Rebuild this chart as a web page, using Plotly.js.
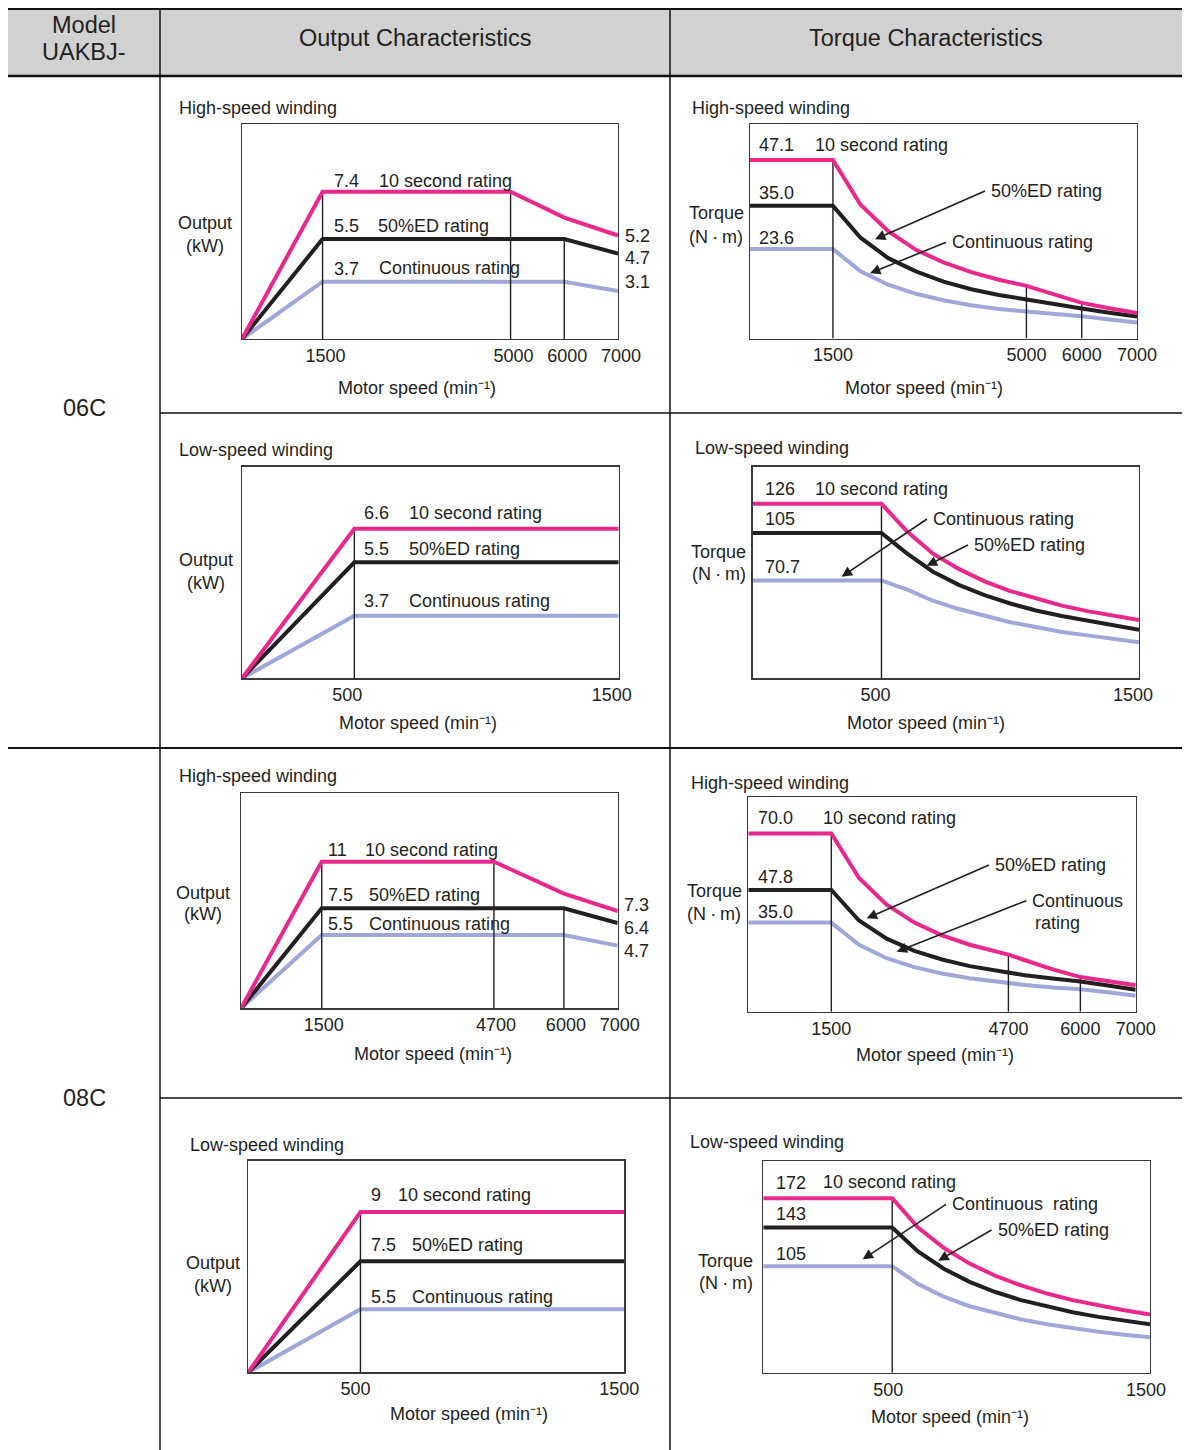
<!DOCTYPE html>
<html>
<head>
<meta charset="utf-8">
<script src="https://cdn.plot.ly/plotly-3.0.1.min.js"></script>
<style>
html,body{margin:0;padding:0;background:#fff;}
#chart{width:1186px;height:1450px;}
</style>
</head>
<body>
<div id="chart"></div>
<script>
// ================= DATA =================
// UAKBJ-06C, high-speed winding, output (kW)
const outSpeed06H = [0, 1500, 5000, 6000, 7000];
const out06H_10s  = [0, 7.4, 7.4, 6.1, 5.2];
const out06H_ed   = [0, 5.5, 5.5, 5.5, 4.7];
const out06H_cont = [0, 3.7, 3.7, 3.7, 3.1];

// UAKBJ-06C, high-speed winding, torque (N·m)
const trqSpeed06H = [0, 1500, 2000, 2500, 3000, 3500, 4000, 4500, 5000, 5500, 6000, 6500, 7000];
const trq06H_10s  = [47.1, 47.1, 35.3, 28.3, 23.4, 20.1, 17.5, 15.5, 13.9, 11.6, 9.4, 8.0, 6.7];
const trq06H_ed   = [35.0, 35.0, 26.6, 21.2, 17.7, 15.0, 13.0, 11.5, 10.3, 9.0, 7.9, 6.8, 5.8];
const trq06H_cont = [23.6, 23.6, 17.7, 14.2, 11.8, 10.1, 8.8, 7.8, 7.1, 6.5, 5.9, 5.0, 4.2];

// UAKBJ-06C, low-speed winding, output (kW)
const outSpeed06L = [0, 500, 1500];
const out06L_10s  = [0, 6.6, 6.6];
const out06L_ed   = [0, 5.5, 5.5];
const out06L_cont = [0, 3.7, 3.7];

// UAKBJ-06C, low-speed winding, torque (N·m)
const trqSpeed06L = [0, 500, 600, 700, 800, 900, 1000, 1100, 1200, 1300, 1400, 1500];
const trq06L_10s  = [126, 126, 106, 90, 79, 70, 63, 57.5, 52.5, 48.5, 45, 42];
const trq06L_ed   = [105, 105, 90, 77, 67.5, 60, 54, 49, 45, 41.5, 38, 35];
const trq06L_cont = [70.7, 70.7, 64, 56, 50, 45, 40.5, 37, 33.5, 31, 28.5, 26];

// UAKBJ-08C, high-speed winding, output (kW)
const outSpeed08H = [0, 1500, 4700, 6000, 7000];
const out08H_10s  = [0, 11, 11, 8.6, 7.3];
const out08H_ed   = [0, 7.5, 7.5, 7.5, 6.4];
const out08H_cont = [0, 5.5, 5.5, 5.5, 4.7];

// UAKBJ-08C, high-speed winding, torque (N·m)
const trqSpeed08H = [0, 1500, 2000, 2500, 3000, 3500, 4000, 4700, 5000, 5500, 6000, 6500, 7000];
const trq08H_10s  = [70.0, 70.0, 52.5, 42.0, 35.0, 30.0, 26.3, 22.4, 20.2, 16.6, 13.6, 11.8, 10.4];
const trq08H_ed   = [47.8, 47.8, 35.8, 28.7, 23.9, 20.5, 17.9, 15.2, 14.3, 13.0, 11.9, 10.3, 8.6];
const trq08H_cont = [35.0, 35.0, 26.3, 21.0, 17.5, 15.0, 13.1, 11.2, 10.5, 9.5, 8.8, 7.6, 6.3];

// UAKBJ-08C, low-speed winding, output (kW)
const outSpeed08L = [0, 500, 1500];
const out08L_10s  = [0, 9, 9];
const out08L_ed   = [0, 7.5, 7.5];
const out08L_cont = [0, 5.5, 5.5];

// UAKBJ-08C, low-speed winding, torque (N·m)
const trqSpeed08L = [0, 500, 600, 700, 800, 900, 1000, 1100, 1200, 1300, 1400, 1500];
const trq08L_10s  = [172, 172, 143, 123, 107.5, 95.5, 86, 78, 71.5, 66, 61.5, 57.3];
const trq08L_ed   = [143, 143, 119.5, 102.5, 89.5, 79.5, 71.5, 65, 59.5, 55, 51, 47.7];
const trq08L_cont = [105, 105, 87.5, 75, 65.5, 58.5, 52.5, 47.7, 43.8, 40.4, 37.5, 35];

// tick labels
const tick06H = [1500, 5000, 6000, 7000];
const tick08H = [1500, 4700, 6000, 7000];
const tickLow = [500, 1500];

// ================= STYLE / LAYOUT =================
const W = 1186, H = 1450;
const FONT = '"Liberation Sans", Arial, Helvetica, sans-serif';
const TXT = '#231f20';
const PINK = '#e8288c', BLACK = '#231f20', BLUE = '#9ea7d8';
const px = x => x / W, py = y => 1 - y / H;

// series order per chart: continuous, 50%ED, 10 second (drawn bottom to top).
// The reference drawing is schematic: each curve has its own vertical scale.
const charts = [
  { box:[242,124,618,339], speed:outSpeed06H, xr:[0,7000], ticks:tick06H, shift:3,
    series:[[out06H_cont,BLUE,[0,13.88]],[out06H_ed,BLACK,[0,11.83]],[out06H_10s,PINK,[0,10.80]]],
    vlines:[[1500,2],[5000,2],[6000,1]] },
  { box:[750,124,1137,338.5], speed:trqSpeed06H, xr:[0,7000], ticks:tick06H, shift:0,
    series:[[trq06H_cont,BLUE,[0,56.6]],[trq06H_ed,BLACK,[0,56.6]],[trq06H_10s,PINK,[0,56.6]]],
    vlines:[[1500,2],[5000,2],[6000,2]] },
  { box:[242,466.7,618.7,678.3], speed:outSpeed06L, xr:[75,1500], ticks:tickLow, shift:-7,
    series:[[out06L_cont,BLUE,[0.555,11.186]],[out06L_ed,BLACK,[0.825,9.353]],[out06L_10s,PINK,[0.99,8.925]]],
    vlines:[[500,2]] },
  { box:[752.7,466.7,1139,678.3], speed:trqSpeed06L, xr:[0,1500], ticks:tickLow, shift:-6,
    series:[[trq06L_cont,BLUE,[0,152.8]],[trq06L_ed,BLACK,[0,152.8]],[trq06L_10s,PINK,[0,152.8]]],
    vlines:[[500,2]] },
  { box:[241,793.3,617.7,1008.3], speed:outSpeed08H, xr:[0,7000], ticks:tick08H, shift:2,
    series:[[out08H_cont,BLUE,[0,16.13]],[out08H_ed,BLACK,[0,16.13]],[out08H_10s,PINK,[0,16.13]]],
    vlines:[[1500,2],[4700,2],[6000,1]] },
  { box:[748.3,797.3,1135.7,1011.7], speed:trqSpeed08H, xr:[0,7000], ticks:tick08H, shift:0,
    series:[[trq08H_cont,BLUE,[0,84.2]],[trq08H_ed,BLACK,[0,84.2]],[trq08H_10s,PINK,[0,84.2]]],
    vlines:[[1500,2],[4700,2],[6000,2]] },
  { box:[248.3,1160.7,624.3,1372.3], speed:outSpeed08L, xr:[75,1500], ticks:tickLow, shift:-5,
    series:[[out08L_cont,BLUE,[0.825,16.527]],[out08L_ed,BLACK,[1.125,13.278]],[out08L_10s,PINK,[1.35,11.448]]],
    vlines:[[500,2]] },
  { box:[763.3,1161,1150,1372.7], speed:trqSpeed08L, xr:[0,1500], ticks:tickLow, shift:-4,
    series:[[trq08L_cont,BLUE,[0,208.6]],[trq08L_ed,BLACK,[0,208.6]],[trq08L_10s,PINK,[0,208.6]]],
    vlines:[[500,2]] }
];
const seriesNames = ['Continuous rating', '50%ED rating', '10 second rating'];

const layout = {
  width: W, height: H,
  margin: {l:0, r:0, t:0, b:0},
  paper_bgcolor: '#ffffff', plot_bgcolor: 'rgba(0,0,0,0)',
  showlegend: false,
  font: {family: FONT, color: TXT, size: 18},
  shapes: [], annotations: []
};
const traces = [];
const lkey = id => id.replace(/^x/, 'xaxis').replace(/^y/, 'yaxis');

charts.forEach((c, i) => {
  const xid = i === 0 ? 'x' : 'x' + (i + 1);
  const yBase = 3 * i + 1;
  const yid = k => (yBase + k === 1 ? 'y' : 'y' + (yBase + k));
  const [x0, y0, x1, y1] = c.box;
  layout[lkey(xid)] = {
    domain: [x0 / W, x1 / W], range: c.xr, anchor: yid(0),
    showline: true, mirror: true, linecolor: '#3a3a3a', linewidth: 1.3,
    showgrid: false, zeroline: false, tickmode: 'array', tickvals: c.ticks,
    ticktext: c.ticks.map(String), ticks: '', ticklabelstandoff: 0, ticklabelshift: c.shift,
    tickfont: {size: 18, color: TXT, family: FONT}, fixedrange: true
  };
  c.series.forEach((s, k) => {
    const ax = {range: s[2], anchor: xid, fixedrange: true, showgrid: false, zeroline: false};
    if (k === 0) {
      Object.assign(ax, {domain: [1 - y1 / H, 1 - y0 / H], showline: true, mirror: true,
        linecolor: '#3a3a3a', linewidth: 1.3, showticklabels: false, ticks: ''});
    } else {
      Object.assign(ax, {overlaying: yid(0), visible: false});
    }
    layout[lkey(yid(k))] = ax;
  });
  // vertical reference lines at the characteristic speeds, up to the series value
  c.vlines.forEach(([sp, k]) => {
    const idx = c.speed.indexOf(sp);
    const v = c.series[k][0][idx];
    traces.push({x: [sp, sp], y: [0, v], xaxis: xid, yaxis: yid(k), mode: 'lines',
      line: {color: '#231f20', width: 1.4}, hoverinfo: 'skip', showlegend: false});
  });
  c.series.forEach(([arr, col], k) => {
    traces.push({x: c.speed, y: arr, xaxis: xid, yaxis: yid(k), mode: 'lines',
      name: seriesNames[k], line: {color: col, width: 4}, hoverinfo: 'skip', showlegend: false});
  });
});

// ---------- table frame ----------
const S = layout.shapes;
const L = (xa, ya, xb, yb, w) => S.push({type:'line', xref:'paper', yref:'paper',
  x0: px(xa), y0: py(ya), x1: px(xb), y1: py(yb), line:{color:'#111', width:w}});
S.push({type:'rect', xref:'paper', yref:'paper', x0: px(8), x1: px(1182), y0: py(76), y1: py(9),
  fillcolor:'#d1d1d1', line:{width:0}, layer:'below'});
L(8, 9, 1182, 9, 2.2);
L(8, 76, 1182, 76, 2.4);
L(160, 9, 160, 1450, 1.5);
L(670, 9, 670, 1450, 1.5);
L(160, 413, 1182, 413, 1.5);
L(8, 748, 1182, 748, 2);
L(160, 1098, 1182, 1098, 1.5);

// ---------- texts ----------
const A = layout.annotations;
function T(text, x, y, anchor, size) {
  A.push({text, x: px(x), y: py(y), xref:'paper', yref:'paper', xanchor: anchor || 'left',
    yanchor:'middle', showarrow:false, font:{family: FONT, size: size || 18, color: TXT}});
}
// label with a leader arrow: the arrow leaves the left side of the label and points at the curve
function AL(text, textLeft, textY, tipX, tipY) {
  const tailX = textLeft - 6;
  A.push({text, x: px(tipX), y: py(tipY), xref:'paper', yref:'paper',
    ax: tailX - tipX, ay: textY - tipY, xanchor:'left', yanchor:'middle', borderpad:5,
    showarrow:true, arrowhead:2, arrowsize:1.3, arrowwidth:1.6, arrowcolor: TXT, standoff:0,
    font:{family: FONT, size: 18, color: TXT}});
}
const MS = 'Motor speed (min\u207B\u00B9)';
const NM = '(N<span style="font-size:14px">・</span>m)';

// header
T('Model', 84, 25, 'center', 23.5);
T('UAKBJ-', 84, 52, 'center', 23.5);
T('Output Characteristics', 415, 38, 'center', 23.5);
T('Torque Characteristics', 926, 38, 'center', 23.5);
T('06C', 84, 408, 'center', 23.5);
T('08C', 84, 1098, 'center', 23.5);

// chart 1 : 06C output, high-speed
T('High-speed winding', 177, 108);
T('Output', 205, 222.5, 'center'); T('(kW)', 205, 246, 'center');
T('7.4', 332, 181); T('10 second rating', 377, 181);
T('5.5', 332, 226); T('50%ED rating', 376, 226);
T('3.7', 332, 269); T('Continuous rating', 377, 268);
T('5.2', 623, 236); T('4.7', 623, 258); T('3.1', 623, 282);
T(MS, 417, 388.5, 'center');

// chart 2 : 06C torque, high-speed
T('High-speed winding', 690, 108.3);
T('Torque', 716, 213.3, 'center'); T(NM, 716, 236.7, 'center');
T('47.1', 757, 145); T('10 second rating', 813, 145);
T('35.0', 757, 192.7); T('23.6', 757, 238.3);
AL('50%ED rating', 991, 191, 875, 239.3);
AL('Continuous rating', 952, 242.3, 870, 273.3);
T(MS, 924, 388.3, 'center');

// chart 3 : 06C output, low-speed
T('Low-speed winding', 177, 450);
T('Output', 206, 560, 'center'); T('(kW)', 206, 582.7, 'center');
T('6.6', 362, 512.7); T('10 second rating', 407, 512.7);
T('5.5', 362, 549); T('50%ED rating', 407, 549);
T('3.7', 362, 601); T('Continuous rating', 407, 601);
T(MS, 417.7, 723.3, 'center');

// chart 4 : 06C torque, low-speed
T('Low-speed winding', 692.7, 448.3);
T('Torque', 718.7, 551.7, 'center'); T(NM, 718.7, 574, 'center');
T('126', 762.7, 489); T('10 second rating', 812.7, 489);
T('105', 762.7, 519.3); T('70.7', 762.7, 567.3);
AL('Continuous rating', 933, 519, 841.7, 576.7);
AL('50%ED rating', 974, 545, 926.7, 565.7);
T(MS, 926.2, 723.3, 'center');

// chart 5 : 08C output, high-speed
T('High-speed winding', 176.7, 776);
T('Output', 203.5, 892.7, 'center'); T('(kW)', 203.5, 914, 'center');
T('11', 326, 850); T('10 second rating', 362.7, 850);
T('7.5', 326, 895); T('50%ED rating', 367.3, 895);
T('5.5', 326, 924); T('Continuous rating', 367.3, 924);
T('7.3', 621.7, 905); T('6.4', 621.7, 927.7); T('4.7', 621.7, 951);
T(MS, 432.8, 1054, 'center');

// chart 6 : 08C torque, high-speed
T('High-speed winding', 689, 783.3);
T('Torque', 714.2, 891, 'center'); T(NM, 714.2, 914, 'center');
T('70.0', 756, 818.3); T('10 second rating', 820.7, 818.3);
T('47.8', 756, 876.7); T('35.0', 756, 911.7);
AL('50%ED rating', 995, 865, 866.7, 918.3);
AL('Continuous', 1032.3, 900.7, 896.7, 951.7); T('rating', 1033.3, 923.3);
T(MS, 934.7, 1055, 'center');

// chart 7 : 08C output, low-speed
T('Low-speed winding', 188.3, 1145);
T('Output', 212.5, 1263.3, 'center'); T('(kW)', 212.5, 1286, 'center');
T('9', 369, 1195); T('10 second rating', 395.7, 1195);
T('7.5', 369, 1245); T('50%ED rating', 410, 1245);
T('5.5', 369, 1296.7); T('Continuous rating', 410, 1296.7);
T(MS, 469.2, 1414, 'center');

// chart 8 : 08C torque, low-speed
T('Low-speed winding', 688.3, 1142.3);
T('Torque', 725.8, 1261, 'center'); T(NM, 725.8, 1283.3, 'center');
T('172', 774, 1183.3); T('10 second rating', 820.7, 1181.7);
T('143', 774, 1214.3); T('105', 774, 1254.3);
AL('Continuous\u00a0 rating', 952, 1204.3, 862.7, 1259.3);
AL('50%ED rating', 997.5, 1230, 938.3, 1260.7);
T(MS, 949.8, 1416.7, 'center');

Plotly.newPlot('chart', traces, layout, {staticPlot: true, displayModeBar: false});
</script>
</body>
</html>
